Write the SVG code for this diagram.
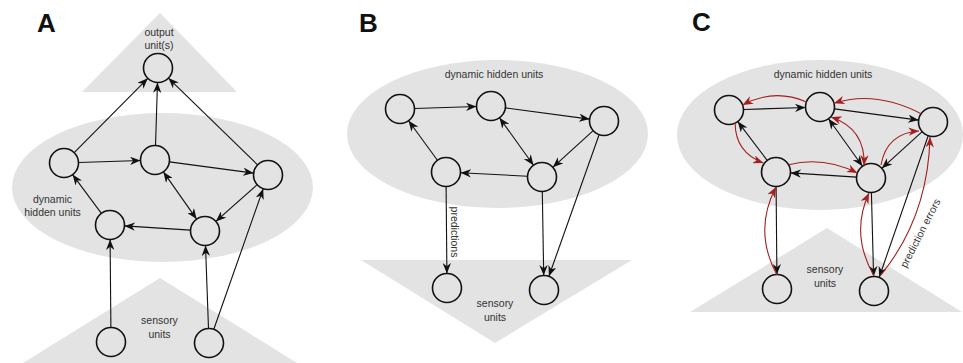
<svg xmlns="http://www.w3.org/2000/svg" width="963" height="363" viewBox="0 0 963 363">
  <style>
    .bg { fill: #e3e3e3; stroke: none; }
    .unit { fill: none; stroke: #111; stroke-width: 1.6; }
    .edge { fill: none; stroke: #111; stroke-width: 1.1; marker-end: url(#ah); }
    .both { marker-start: url(#ah); }
    .err { fill: none; stroke: #a31f1f; stroke-width: 1.1; marker-end: url(#ahr); }
    .err.both { marker-start: url(#ahr); }
    .lbl { font-family: "Liberation Sans", Arial, sans-serif; font-size: 10.5px; fill: #333; text-anchor: middle; }
    .panel { font-family: "Liberation Sans", Arial, sans-serif; font-size: 26px; font-weight: bold; fill: #111; }
  </style>
  <defs>
    <marker id="ah" viewBox="0 0 10 8" refX="10" refY="4" markerWidth="10.5" markerHeight="8.4" markerUnits="userSpaceOnUse" orient="auto-start-reverse">
      <path d="M0,0 L10,4 L0,8 L3,4 z" fill="#111"/>
    </marker>
    <marker id="ahr" viewBox="0 0 10 8" refX="10" refY="4" markerWidth="10.5" markerHeight="8.4" markerUnits="userSpaceOnUse" orient="auto-start-reverse">
      <path d="M0,0 L10,4 L0,8 L3,4 z" fill="#a31f1f"/>
    </marker>
  </defs>
  <rect width="963" height="363" fill="#fff"/>

  <!-- Panel A: feed-forward recurrent network -->
  <g id="panelA">
    <text class="panel" x="37" y="32">A</text>
    <polygon class="bg" points="160,13 82,92 237,92"/>
    <ellipse class="bg" cx="162.5" cy="187.5" rx="150.5" ry="74.5"/>
    <polygon class="bg" points="160,278 23,363 297,363"/>
    <text class="lbl" x="159" y="36">output</text>
    <text class="lbl" x="159" y="48.5">unit(s)</text>
    <text class="lbl" x="52.5" y="202.5">dynamic</text>
    <text class="lbl" x="52.5" y="216">hidden units</text>
    <text class="lbl" x="159.5" y="324">sensory</text>
    <text class="lbl" x="159.5" y="338">units</text>
    <g id="A-out"><circle class="unit" cx="158" cy="68" r="14.5"/></g>
    <g id="A-h1"><circle class="unit" cx="64" cy="163" r="14.5"/></g>
    <g id="A-h2"><circle class="unit" cx="155" cy="160" r="14.5"/></g>
    <g id="A-h3"><circle class="unit" cx="268" cy="175" r="14.5"/></g>
    <g id="A-h4"><circle class="unit" cx="110" cy="225" r="14.5"/></g>
    <g id="A-h5"><circle class="unit" cx="205" cy="231" r="14.5"/></g>
    <g id="A-s1"><circle class="unit" cx="111" cy="342" r="14.5"/></g>
    <g id="A-s2"><circle class="unit" cx="209" cy="343" r="14.5"/></g>
    <g id="A-connectors">
      <line class="edge" x1="74.2" y1="152.7" x2="147.8" y2="78.3"/>
      <line class="edge" x1="155.5" y1="145.5" x2="157.5" y2="82.5"/>
      <line class="edge" x1="257.6" y1="164.9" x2="168.4" y2="78.1"/>
      <line class="edge" x1="78.5" y1="162.5" x2="140.5" y2="160.5"/>
      <line class="edge" x1="169.4" y1="161.9" x2="253.6" y2="173.1"/>
      <line class="edge" x1="101.4" y1="213.4" x2="72.6" y2="174.6"/>
      <line class="edge both" x1="163.4" y1="171.9" x2="196.6" y2="219.1"/>
      <line class="edge" x1="257.2" y1="184.6" x2="215.8" y2="221.4"/>
      <line class="edge" x1="190.5" y1="230.1" x2="124.5" y2="225.9"/>
      <line class="edge" x1="110.9" y1="327.5" x2="110.1" y2="239.5"/>
      <line class="edge" x1="208.5" y1="328.5" x2="205.5" y2="245.5"/>
      <line class="edge" x1="213.8" y1="329.3" x2="263.2" y2="188.7"/>
    </g>
  </g>

  <!-- Panel B: generative model with top-down predictions -->
  <g id="panelB">
    <text class="panel" x="359" y="32">B</text>
    <ellipse class="bg" cx="497.5" cy="134" rx="150.5" ry="74"/>
    <polygon class="bg" points="361,260 632,260 495,343"/>
    <text class="lbl" x="494" y="77.5">dynamic hidden units</text>
    <text class="lbl" x="495" y="307">sensory</text>
    <text class="lbl" x="495" y="320.5">units</text>
    <text class="lbl" transform="translate(455 232) rotate(90)" dominant-baseline="central">predictions</text>
    <g id="B-h1"><circle class="unit" cx="400" cy="109" r="14.5"/></g>
    <g id="B-h2"><circle class="unit" cx="491" cy="106" r="14.5"/></g>
    <g id="B-h3"><circle class="unit" cx="604" cy="121" r="14.5"/></g>
    <g id="B-h4"><circle class="unit" cx="446" cy="172" r="14.5"/></g>
    <g id="B-h5"><circle class="unit" cx="542" cy="177" r="14.5"/></g>
    <g id="B-s1"><circle class="unit" cx="447" cy="288" r="14.5"/></g>
    <g id="B-s2"><circle class="unit" cx="544" cy="290" r="14.5"/></g>
    <g id="B-connectors">
      <line class="edge" x1="414.5" y1="108.5" x2="476.5" y2="106.5"/>
      <line class="edge" x1="505.4" y1="107.9" x2="589.6" y2="119.1"/>
      <line class="edge" x1="437.4" y1="160.3" x2="408.6" y2="120.7"/>
      <line class="edge both" x1="499.5" y1="117.8" x2="533.5" y2="165.2"/>
      <line class="edge" x1="593.2" y1="130.7" x2="552.8" y2="167.3"/>
      <line class="edge" x1="527.5" y1="176.2" x2="460.5" y2="172.8"/>
      <line class="edge" x1="446.1" y1="186.5" x2="446.9" y2="273.5"/>
      <line class="edge" x1="542.3" y1="191.5" x2="543.7" y2="275.5"/>
      <line class="edge" x1="599.1" y1="134.7" x2="548.9" y2="276.3"/>
    </g>
  </g>

  <!-- Panel C: predictions with returning prediction errors -->
  <g id="panelC">
    <text class="panel" x="692" y="31">C</text>
    <ellipse class="bg" cx="820" cy="135" rx="143" ry="75"/>
    <polygon class="bg" points="827,228 690,312 962,312"/>
    <text class="lbl" x="823" y="78">dynamic hidden units</text>
    <text class="lbl" x="825" y="273">sensory</text>
    <text class="lbl" x="825" y="286.5">units</text>
    <text class="lbl" transform="translate(920 233) rotate(-63)" dominant-baseline="central">prediction errors</text>
    <g id="C-h1"><circle class="unit" cx="729" cy="110" r="14.5"/></g>
    <g id="C-h2"><circle class="unit" cx="820" cy="107" r="14.5"/></g>
    <g id="C-h3"><circle class="unit" cx="933" cy="122" r="14.5"/></g>
    <g id="C-h4"><circle class="unit" cx="776" cy="172" r="14.5"/></g>
    <g id="C-h5"><circle class="unit" cx="871" cy="178" r="14.5"/></g>
    <g id="C-s1"><circle class="unit" cx="777" cy="289" r="14.5"/></g>
    <g id="C-s2"><circle class="unit" cx="874" cy="291" r="14.5"/></g>
    <g id="C-connectors">
      <line class="edge" x1="743.5" y1="109.5" x2="805.5" y2="107.5"/>
      <line class="edge" x1="834.4" y1="108.9" x2="918.6" y2="120.1"/>
      <line class="edge" x1="767.2" y1="160.4" x2="737.8" y2="121.6"/>
      <line class="edge both" x1="828.5" y1="118.8" x2="862.5" y2="166.2"/>
      <line class="edge" x1="922.2" y1="131.7" x2="881.8" y2="168.3"/>
      <line class="edge" x1="856.5" y1="177.1" x2="790.5" y2="172.9"/>
      <line class="edge" x1="776.1" y1="186.5" x2="776.9" y2="274.5"/>
      <line class="edge" x1="871.4" y1="192.5" x2="873.6" y2="276.5"/>
      <line class="edge" x1="928.2" y1="135.7" x2="879.2" y2="277.3"/>
      <!-- prediction-error pathways -->
      <path class="err" d="M806.4,102 Q774,88 742.6,105"/>
      <path class="err" d="M921.1,113.7 Q875,90 834,103.3"/>
      <path class="err both" d="M831,117 Q865.7,128.9 864,165.5"/>
      <path class="err" d="M881,165 Q886.7,133.1 919,131"/>
      <path class="err" d="M735.1,123.1 Q735.3,152.6 763.4,163"/>
      <path class="err" d="M788.6,164.75 Q823,156 857.4,173"/>
      <path class="err" d="M777,275 Q753,231 776,187"/>
      <path class="err" d="M874,276 Q850,234 869,193"/>
      <path class="err" d="M880,276 Q928,218 930,137"/>
    </g>
  </g>
</svg>
